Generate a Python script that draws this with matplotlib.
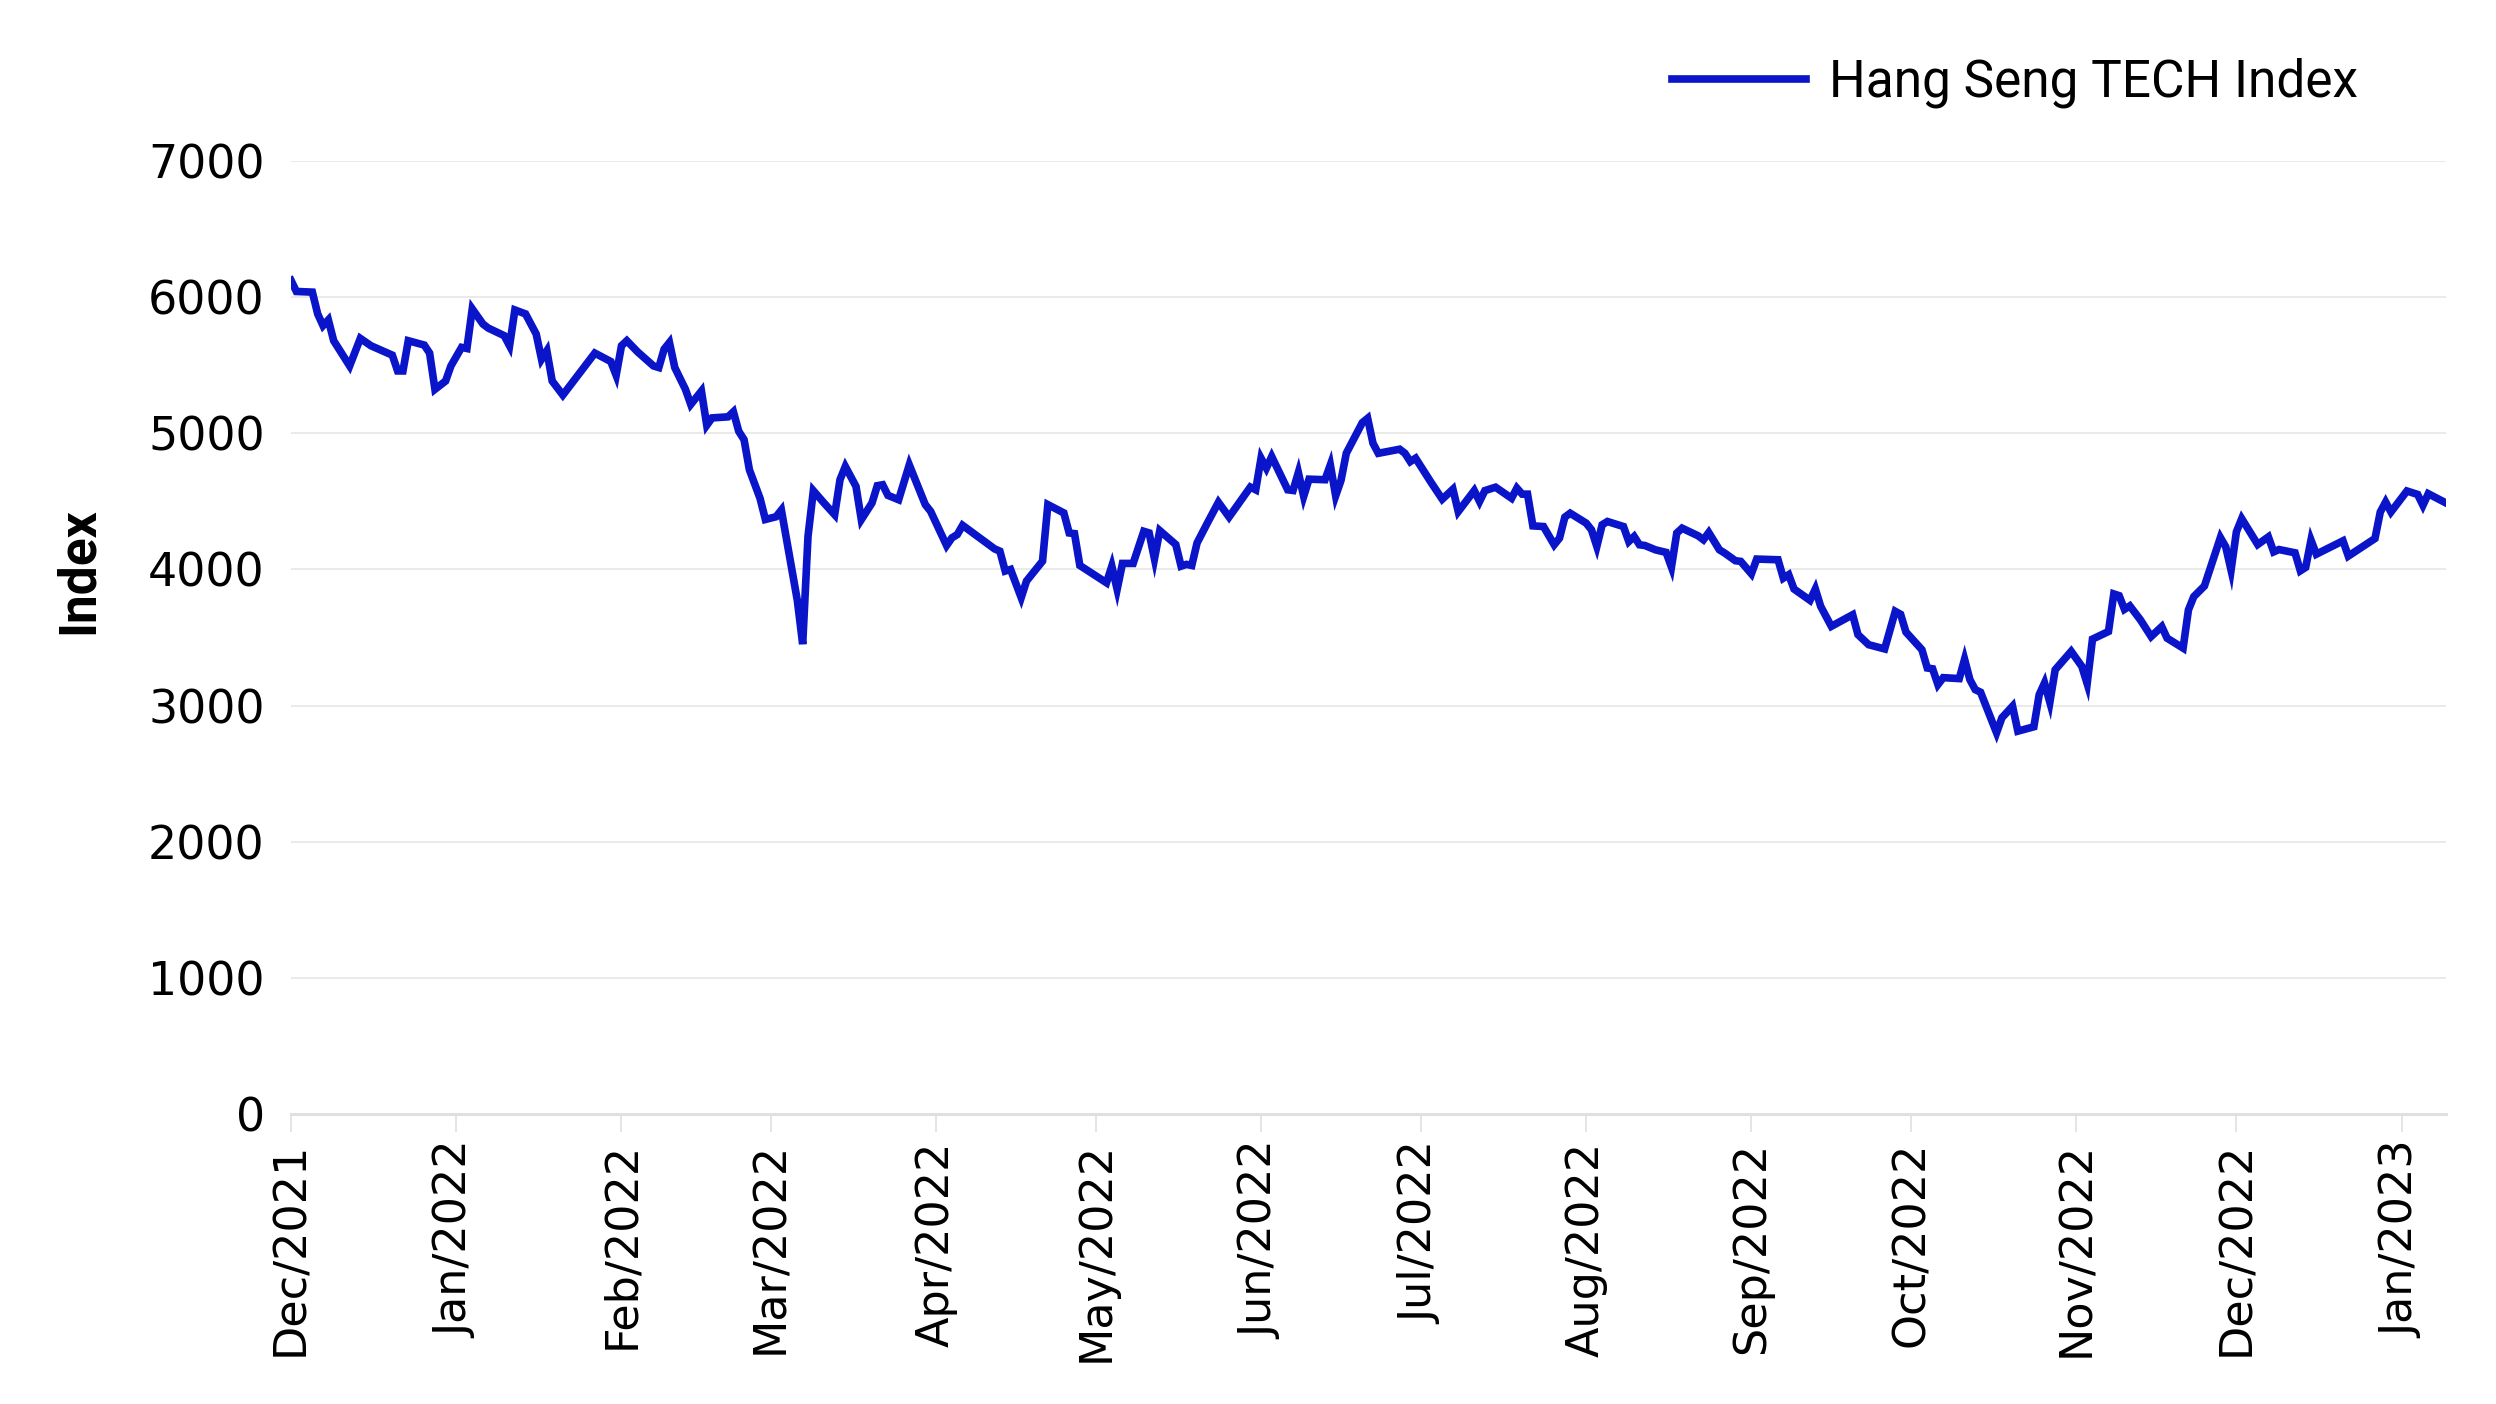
import matplotlib
matplotlib.use("Agg")
import matplotlib.pyplot as plt
import matplotlib.dates as mdates
import pandas as pd

# Hang Seng TECH Index
dates = [
    "2021-12-01", "2021-12-02", "2021-12-05", "2021-12-06", "2021-12-07", "2021-12-08", "2021-12-09",
    "2021-12-12", "2021-12-14", "2021-12-16", "2021-12-20", "2021-12-21", "2021-12-22", "2021-12-23",
    "2021-12-26", "2021-12-27", "2021-12-28", "2021-12-30", "2021-12-31",
    "2022-01-02", "2022-01-03", "2022-01-04", "2022-01-06", "2022-01-07", "2022-01-10", "2022-01-11",
    "2022-01-12", "2022-01-14", "2022-01-16", "2022-01-17", "2022-01-18", "2022-01-19", "2022-01-21",
    "2022-01-27", "2022-01-30", "2022-01-31",
    "2022-02-01", "2022-02-02", "2022-02-04", "2022-02-07", "2022-02-08", "2022-02-09", "2022-02-10",
    "2022-02-11", "2022-02-13", "2022-02-14", "2022-02-16", "2022-02-17", "2022-02-18", "2022-02-21",
    "2022-02-22", "2022-02-23", "2022-02-24", "2022-02-25", "2022-02-27", "2022-02-28",
    "2022-03-02", "2022-03-03", "2022-03-04", "2022-03-06", "2022-03-07", "2022-03-08", "2022-03-09",
    "2022-03-11", "2022-03-13", "2022-03-14", "2022-03-15", "2022-03-17", "2022-03-18", "2022-03-20",
    "2022-03-21", "2022-03-22", "2022-03-23", "2022-03-25", "2022-03-27", "2022-03-30", "2022-03-31",
    "2022-04-03", "2022-04-04", "2022-04-05", "2022-04-06", "2022-04-12", "2022-04-13", "2022-04-14",
    "2022-04-15", "2022-04-17", "2022-04-18", "2022-04-21", "2022-04-22", "2022-04-25", "2022-04-26",
    "2022-04-27", "2022-04-28",
    "2022-05-03", "2022-05-04", "2022-05-05", "2022-05-06", "2022-05-08", "2022-05-10", "2022-05-11",
    "2022-05-12", "2022-05-13", "2022-05-16", "2022-05-17", "2022-05-18", "2022-05-19", "2022-05-20",
    "2022-05-22", "2022-05-24", "2022-05-26", "2022-05-30", "2022-05-31",
    "2022-06-01", "2022-06-02", "2022-06-03", "2022-06-06", "2022-06-07", "2022-06-08", "2022-06-09",
    "2022-06-10", "2022-06-13", "2022-06-14", "2022-06-15", "2022-06-16", "2022-06-17", "2022-06-20",
    "2022-06-21", "2022-06-22", "2022-06-23", "2022-06-27", "2022-06-28", "2022-06-29", "2022-06-30",
    "2022-07-03", "2022-07-05", "2022-07-07", "2022-07-08", "2022-07-11", "2022-07-12", "2022-07-13",
    "2022-07-15", "2022-07-18", "2022-07-19", "2022-07-20", "2022-07-21", "2022-07-22", "2022-07-24",
    "2022-07-26", "2022-07-27", "2022-07-28", "2022-07-29",
    "2022-08-01", "2022-08-02", "2022-08-03", "2022-08-04", "2022-08-05", "2022-08-08", "2022-08-09",
    "2022-08-10", "2022-08-11", "2022-08-12", "2022-08-14", "2022-08-16", "2022-08-17", "2022-08-18",
    "2022-08-19", "2022-08-22", "2022-08-23", "2022-08-24", "2022-08-26", "2022-08-27", "2022-08-29",
    "2022-08-30",
    "2022-09-01", "2022-09-02", "2022-09-06", "2022-09-07", "2022-09-08", "2022-09-09", "2022-09-12",
    "2022-09-13", "2022-09-14", "2022-09-16", "2022-09-20", "2022-09-21", "2022-09-23", "2022-09-26",
    "2022-09-28", "2022-09-29", "2022-09-30",
    "2022-10-03", "2022-10-04", "2022-10-05", "2022-10-06", "2022-10-07", "2022-10-10", "2022-10-11",
    "2022-10-12", "2022-10-13", "2022-10-14", "2022-10-17", "2022-10-18", "2022-10-20", "2022-10-21",
    "2022-10-24", "2022-10-25", "2022-10-26", "2022-10-27", "2022-10-28", "2022-10-31",
    "2022-11-02", "2022-11-03", "2022-11-04", "2022-11-07", "2022-11-08", "2022-11-09", "2022-11-10",
    "2022-11-11", "2022-11-13", "2022-11-15", "2022-11-17", "2022-11-18", "2022-11-21", "2022-11-22",
    "2022-11-23", "2022-11-25", "2022-11-28", "2022-11-29", "2022-11-30",
    "2022-12-01", "2022-12-02", "2022-12-05", "2022-12-07", "2022-12-08", "2022-12-09", "2022-12-12",
    "2022-12-13", "2022-12-14", "2022-12-15", "2022-12-16", "2022-12-21", "2022-12-22", "2022-12-27",
    "2022-12-28", "2022-12-29", "2022-12-30",
    "2023-01-02", "2023-01-04", "2023-01-05", "2023-01-06", "2023-01-09",
]
index_values = [
    6123, 6042, 6037, 5877, 5791, 5833, 5680,
    5495, 5697, 5643, 5574, 5458, 5458, 5680,
    5648, 5589, 5323, 5384, 5495,
    5631, 5623, 5914, 5803, 5773, 5717, 5643,
    5906, 5877, 5729, 5544, 5606, 5384, 5281,
    5589, 5527, 5426,
    5643, 5680, 5599, 5495, 5483, 5618, 5667,
    5483, 5323, 5212, 5310, 5059, 5113, 5121,
    5158, 5015, 4953, 4732, 4522, 4367,
    4387, 4436, 4214, 3771, 3451, 4244, 4578,
    4488, 4402, 4659, 4756, 4610, 4366, 4488,
    4615, 4622, 4544, 4512, 4768, 4476, 4427,
    4176, 4232, 4256, 4324, 4151, 4134, 3988,
    4000, 3793, 3915, 4061, 4476, 4415, 4268,
    4263, 4029,
    3902, 4024, 3854, 4044, 4044, 4280, 4268,
    4078, 4285, 4183, 4024, 4037, 4029, 4195,
    4346, 4493, 4385, 4605, 4585,
    4817, 4744, 4829, 4585, 4580, 4712, 4537,
    4663, 4659, 4768, 4541, 4654, 4854, 5078,
    5110, 4927, 4853, 4883, 4853, 4792, 4817,
    4633, 4516, 4589, 4425, 4579, 4499, 4579,
    4604, 4523, 4597, 4553, 4553, 4320, 4315,
    4181, 4230, 4384, 4413,
    4340, 4291, 4169, 4328, 4352, 4315, 4205,
    4242, 4181, 4176, 4144, 4125, 4017, 4267,
    4303, 4247, 4218, 4271, 4144, 4120, 4064,
    4059,
    3968, 4076, 4071, 3936, 3961, 3856, 3773,
    3856, 3729, 3582, 3667, 3521, 3447, 3416,
    3692, 3670, 3540,
    3410, 3276, 3270, 3154, 3205, 3198, 3340,
    3190, 3117, 3098, 2800, 2910, 2995, 2812,
    2844, 3080, 3166, 3024, 3263, 3398,
    3288, 3161, 3488, 3544, 3820, 3807, 3707,
    3732, 3629, 3507, 3580, 3495, 3422, 3702,
    3800, 3878, 4234, 4166, 3995,
    4276, 4373, 4183, 4239, 4129, 4146, 4122,
    3990, 4015, 4215, 4112, 4210, 4098, 4227,
    4422, 4495, 4422,
    4576, 4551, 4471, 4556, 4495,
]
series_label = "Hang Seng TECH Index"
y_ticks = [0, 1000, 2000, 3000, 4000, 5000, 6000, 7000]
month_ticks = pd.date_range("2021-12-01", "2023-01-01", freq="MS")

x = pd.to_datetime(dates)

fig = plt.figure(figsize=(24.96, 14.04), dpi=100)
ax = fig.add_axes([0.1166, 0.2066, 0.8632, 0.6787])

ax.plot(x, index_values, color="#0a14c8", lw=5.5, label=series_label,
        solid_joinstyle="miter")

ax.set_ylim(0, 7000)
ax.set_xlim(pd.Timestamp("2021-12-01"), pd.Timestamp("2023-01-09 06:00"))
ax.set_yticks(y_ticks)
ax.set_yticklabels([str(v) for v in y_ticks])
ax.set_xticks(month_ticks)
ax.xaxis.set_major_formatter(mdates.DateFormatter("%b/%Y"))

ax.grid(axis="y", color="#e8e8e8", lw=1.3)
ax.set_axisbelow(True)
for s in ["top", "right", "left"]:
    ax.spines[s].set_visible(False)
ax.spines["bottom"].set_color("#e0e0e0")
ax.spines["bottom"].set_linewidth(2.2)

ax.tick_params(axis="y", length=0, pad=19, labelsize=33, labelcolor="black")
ax.tick_params(axis="x", length=13, width=1.2, color="#e0e0e0", pad=7,
               labelsize=32, labelrotation=90, labelcolor="black")

ax.set_ylabel("Index", fontsize=37, fontweight="bold", family=["Roboto", "DejaVu Sans"])
ax.yaxis.set_label_coords(-0.087, 0.57)

fig.legend(loc="center right", bbox_to_anchor=(2358 / 2496, 1 - 83 / 1404),
           frameon=False, handlelength=2.6, handletextpad=0.45,
           borderpad=0, borderaxespad=0,
           prop={"family": ["Roboto", "DejaVu Sans"], "size": 37})

fig.savefig("out.png", dpi=100)
